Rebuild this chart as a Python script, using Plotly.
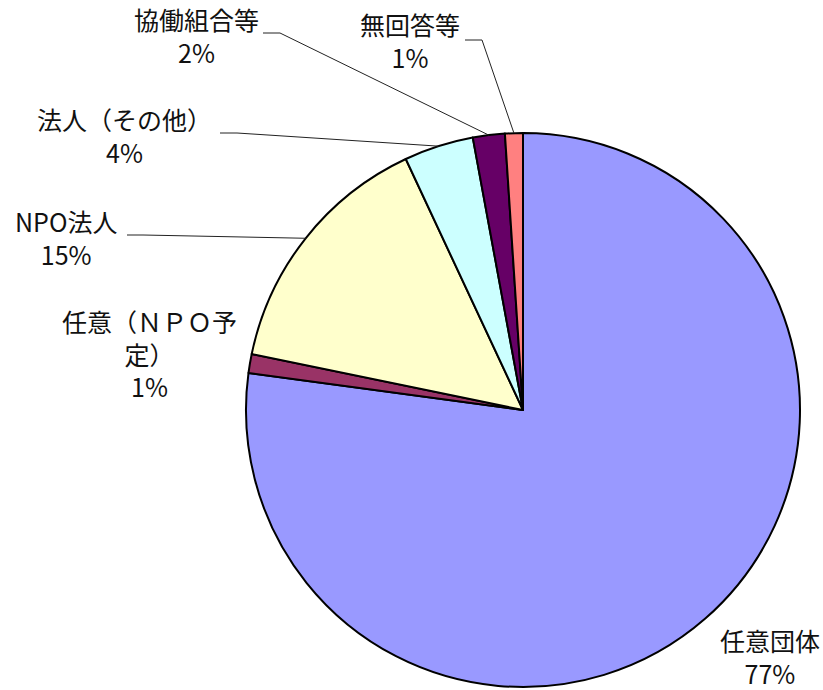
import math
import plotly.graph_objects as go

# ---- data ----
labels = ["任意団体", "任意（ＮＰＯ予定）", "NPO法人", "法人（その他）", "協働組合等", "無回答等"]
label_text = ["任意団体", "任意（ＮＰＯ予<br>定）", "NPO法人", "法人（その他）", "協働組合等", "無回答等"]
values = [77.1, 1.1, 14.8, 4.05, 1.86, 1.04]
colors = ["#9999FF", "#993366", "#FFFFCC", "#CCFFFF", "#660066", "#FF8080"]

# ---- layout (pixels) ----
W, H = 823, 690
CX, CY, R = 523, 410, 277
# label block centres (px) and leader-line start (px) or None
label_pos = [(770, 656), (149, 353), (66, 238), (124, 135), (196, 35), (410, 40)]
leader_start = [None, None, (127, 235), (220, 133), (263, 33), (465, 40)]
leader_knee = [None, None, (143, 235), (237, 133), (280, 33), (482, 40)]

def px2paper(x, y):
    return x / W, 1 - y / H

total = sum(values)
pct = [f"{round(v / total * 100)}%" for v in values]

fig = go.Figure(go.Pie(
    labels=labels, values=values, sort=False, direction="clockwise", rotation=0,
    marker=dict(colors=colors, line=dict(color="black", width=2)),
    textinfo="none", hoverinfo="skip", showlegend=False,
    domain=dict(x=[(CX - R) / W, (CX + R) / W], y=[(H - CY - R) / H, (H - CY + R) / H]),
))

annotations = []
shapes = []
cum = 0.0
for i, v in enumerate(values):
    mid = 2 * math.pi * (cum + v / 2) / total
    cum += v
    ax_px = CX + R * math.sin(mid)
    ay_px = CY - R * math.cos(mid)
    lx, ly = px2paper(*label_pos[i])
    annotations.append(dict(
        x=lx, y=ly, xref="paper", yref="paper", xanchor="center", yanchor="middle",
        text=f"{label_text[i]}<br>{pct[i]}", showarrow=False, align="center",
        font=dict(size=25, color="#111", family="Noto Sans CJK JP"),
    ))
    if leader_start[i] is not None:
        p0 = px2paper(*leader_start[i])
        p1 = px2paper(*leader_knee[i])
        p2 = px2paper(ax_px, ay_px)
        shapes.append(dict(
            type="path", xref="paper", yref="paper",
            path=f"M {p0[0]} {p0[1]} L {p1[0]} {p1[1]} L {p2[0]} {p2[1]}",
            line=dict(color="#222", width=1),
        ))

fig.update_layout(
    width=W, height=H, margin=dict(l=0, r=0, t=0, b=0),
    paper_bgcolor="white", plot_bgcolor="white",
    annotations=annotations, shapes=shapes,
)
fig.write_html(
    "out.html",
    config={"displayModeBar": False},
    post_script="document.body.style.margin='0';document.body.style.overflow='hidden';",
)
